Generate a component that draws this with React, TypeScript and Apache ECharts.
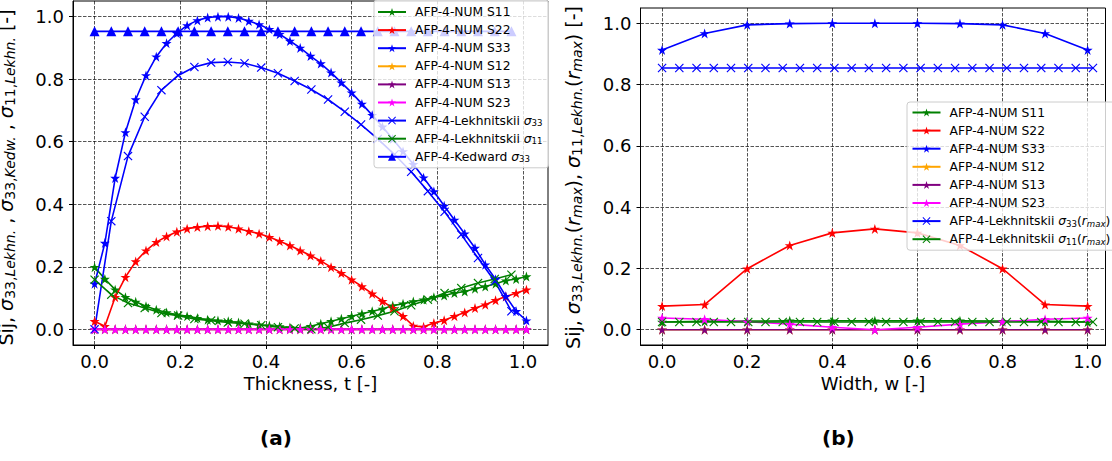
import React, { useEffect, useRef } from "react";
import * as echarts from "echarts";

// ---------------- data ----------------
const thicknessNum = [0, 0.024, 0.048, 0.072, 0.096, 0.12, 0.144, 0.168, 0.192, 0.216, 0.24, 0.264, 0.288, 0.312, 0.336, 0.36, 0.384, 0.408, 0.432, 0.456, 0.48, 0.504, 0.528, 0.552, 0.576, 0.6, 0.624, 0.648, 0.672, 0.696, 0.72, 0.744, 0.768, 0.792, 0.816, 0.84, 0.864, 0.888, 0.912, 0.936, 0.96, 0.984, 1.008];
const thicknessLekh = [0, 0.039, 0.078, 0.117, 0.156, 0.195, 0.233, 0.272, 0.311, 0.35, 0.389, 0.428, 0.467, 0.506, 0.545, 0.584, 0.622, 0.661, 0.7, 0.739, 0.778, 0.817, 0.856, 0.895, 0.934, 0.973];

const aS11 = [0.199, 0.161, 0.127, 0.103, 0.088, 0.074, 0.063, 0.054, 0.047, 0.042, 0.036, 0.031, 0.028, 0.026, 0.022, 0.018, 0.015, 0.012, 0.009, 0.006, 0.004, 0.01, 0.018, 0.026, 0.034, 0.042, 0.05, 0.058, 0.065, 0.076, 0.082, 0.089, 0.095, 0.103, 0.108, 0.116, 0.121, 0.13, 0.137, 0.146, 0.156, 0.161, 0.169];
const aS22 = [0.026, 0.01, 0.103, 0.167, 0.217, 0.252, 0.279, 0.297, 0.312, 0.322, 0.327, 0.33, 0.331, 0.328, 0.322, 0.314, 0.306, 0.295, 0.282, 0.268, 0.252, 0.236, 0.219, 0.199, 0.18, 0.159, 0.137, 0.114, 0.09, 0.068, 0.042, 0.011, 0.008, 0.02, 0.029, 0.042, 0.054, 0.068, 0.079, 0.093, 0.105, 0.116, 0.127];
const aS33 = [0.146, 0.276, 0.484, 0.63, 0.735, 0.812, 0.872, 0.915, 0.947, 0.972, 0.988, 0.997, 1.0, 1.0, 0.996, 0.986, 0.975, 0.96, 0.944, 0.922, 0.9, 0.874, 0.85, 0.821, 0.789, 0.757, 0.721, 0.685, 0.648, 0.609, 0.569, 0.528, 0.485, 0.441, 0.395, 0.35, 0.306, 0.26, 0.207, 0.16, 0.106, 0.058, 0.028];
const aS12 = [0, 0, 0, 0, 0, 0, 0, 0, 0, 0, 0, 0, 0, 0, 0, 0, 0, 0, 0, 0, 0, 0, 0, 0, 0, 0, 0, 0, 0, 0, 0, 0, 0, 0, 0, 0, 0, 0, 0, 0, 0, 0, 0];
const aS13 = [0, 0, 0, 0, 0, 0, 0, 0, 0, 0, 0, 0, 0, 0, 0, 0, 0, 0, 0, 0, 0, 0, 0, 0, 0, 0, 0, 0, 0, 0, 0, 0, 0, 0, 0, 0, 0, 0, 0, 0, 0, 0, 0];
const aS23 = [0, 0, 0, 0, 0, 0, 0, 0, 0, 0, 0, 0, 0, 0, 0, 0, 0, 0, 0, 0, 0, 0, 0, 0, 0, 0, 0, 0, 0, 0, 0, 0, 0, 0, 0, 0, 0, 0, 0, 0, 0, 0, 0];
const aLekh33 = [0, 0.346, 0.554, 0.68, 0.765, 0.812, 0.839, 0.853, 0.855, 0.851, 0.837, 0.819, 0.794, 0.767, 0.735, 0.696, 0.655, 0.609, 0.559, 0.504, 0.442, 0.376, 0.303, 0.228, 0.154, 0.058];
const aLekh11 = [0.159, 0.111, 0.084, 0.068, 0.052, 0.044, 0.033, 0.028, 0.022, 0.018, 0.013, 0.007, 0.003, 0.0, 0.007, 0.02, 0.031, 0.044, 0.058, 0.077, 0.095, 0.116, 0.132, 0.148, 0.161, 0.175];
const aKedw33 = [0.953, 0.953, 0.953, 0.953, 0.953, 0.953, 0.953, 0.953, 0.953, 0.953, 0.953, 0.953, 0.953, 0.953, 0.953, 0.953, 0.953, 0.953, 0.953, 0.953, 0.953, 0.953, 0.953, 0.953, 0.953, 0.953];

const widthNum = [0, 0.1, 0.2, 0.3, 0.4, 0.5, 0.6, 0.7, 0.8, 0.9, 1.0];
const widthLekh = [0, 0.0405, 0.081, 0.1215, 0.162, 0.2025, 0.243, 0.2835, 0.324, 0.3645, 0.405, 0.4455, 0.486, 0.5265, 0.567, 0.6075, 0.648, 0.6885, 0.729, 0.7695, 0.81, 0.8505, 0.891, 0.9315, 0.972, 1.0125];
const bS11 = [0.025, 0.027, 0.028, 0.029, 0.029, 0.029, 0.029, 0.029, 0.028, 0.027, 0.025];
const bS22 = [0.077, 0.082, 0.199, 0.275, 0.316, 0.329, 0.316, 0.275, 0.199, 0.082, 0.077];
const bS33 = [0.913, 0.967, 0.995, 0.999, 1.0, 1.0, 1.0, 0.999, 0.995, 0.967, 0.913];
const bS12 = [0, 0, 0, 0, 0, 0, 0, 0, 0, 0, 0];
const bS13 = [0, 0, 0, 0, 0, 0, 0, 0, 0, 0, 0];
const bS23 = [0.038, 0.034, 0.026, 0.018, 0.008, 0.0, 0.008, 0.018, 0.026, 0.034, 0.038];
const bLekh33 = [0.854, 0.854, 0.854, 0.854, 0.854, 0.854, 0.854, 0.854, 0.854, 0.854, 0.854, 0.854, 0.854, 0.854, 0.854, 0.854, 0.854, 0.854, 0.854, 0.854, 0.854, 0.854, 0.854, 0.854, 0.854, 0.854];
const bLekh11 = [0.025, 0.025, 0.025, 0.025, 0.025, 0.025, 0.025, 0.025, 0.025, 0.025, 0.025, 0.025, 0.025, 0.025, 0.025, 0.025, 0.025, 0.025, 0.025, 0.025, 0.025, 0.025, 0.025, 0.025, 0.025, 0.025];

const tickValues = [0, 0.2, 0.4, 0.6, 0.8, 1.0];

const N11 = "AFP-4-NUM S11";
const N22 = "AFP-4-NUM S22";
const N33 = "AFP-4-NUM S33";
const N12 = "AFP-4-NUM S12";
const N13 = "AFP-4-NUM S13";
const N23 = "AFP-4-NUM S23";
const NL33 = "AFP-4-Lekhnitskii σ33";
const NL11 = "AFP-4-Lekhnitskii σ11";
const NK33 = "AFP-4-Kedward σ33";
const NL33r = "AFP-4-Lekhnitskii σ33(rmax)";
const NL11r = "AFP-4-Lekhnitskii σ11(rmax)";

// ---------------- styles ----------------
const FONT = "DejaVu Sans";
const STAR = "path://M50,0L61.23,34.55L97.55,34.55L68.17,55.9L79.39,90.45L50,69.1L20.61,90.45L31.83,55.9L2.45,34.55L38.77,34.55Z";
const XMARK = "path://M9,0L50,41L91,0L100,9L59,50L100,91L91,100L50,59L9,100L0,91L41,50L0,9Z";
const GREEN = "#008000";
const RED = "#ff0000";
const BLUE = "#0000ff";
const ORANGE = "#ffa500";
const PURPLE = "#800080";
const MAGENTA = "#ff00ff";

const pts = (xs: number[], ys: number[]) => xs.map((x, i) => [x, ys[i]]);

const mk = (name: string, xs: number[], ys: number[], color: string, symbol: string, size: number, g: number) => ({
  type: "line",
  name,
  xAxisIndex: g,
  yAxisIndex: g,
  data: pts(xs, ys),
  symbol,
  symbolSize: size,
  showAllSymbol: true,
  color,
  itemStyle: { color, borderWidth: 0 },
  lineStyle: { color, width: 1.6 },
  emphasis: { disabled: true },
  silent: true,
});

const tickFmt = (v: number) => {
  const k = v / 0.2;
  return Math.abs(k - Math.round(k)) < 1e-6 ? v.toFixed(1) : "";
};

const gridLine = { show: true, lineStyle: { color: "rgba(0,0,0,0.75)", width: 0.9, type: [3.5, 1.5] } };

const xAxisBase = (g: number, min: number, max: number, name: string) => ({
  type: "value",
  gridIndex: g,
  min,
  max,
  splitNumber: 5,
  name,
  nameLocation: "middle",
  nameGap: 28,
  nameTextStyle: { fontFamily: FONT, fontSize: 18, color: "#000" },
  axisLine: { show: true, onZero: false, lineStyle: { color: "#000", width: 1 } },
  axisTick: { show: true, length: 4, lineStyle: { color: "#000", width: 1 }, customValues: tickValues },
  axisLabel: { fontFamily: FONT, fontSize: 18, color: "#000", margin: 7, formatter: tickFmt, customValues: tickValues },
  splitLine: gridLine,
});

const nameRich = {
  g: { fontFamily: FONT, fontSize: 19, fontStyle: "italic", color: "#000", lineHeight: 22 },
  s: { fontFamily: FONT, fontSize: 14, color: "#000", verticalAlign: "bottom", lineHeight: 13 },
  si: { fontFamily: FONT, fontSize: 14, fontStyle: "italic", color: "#000", verticalAlign: "bottom", lineHeight: 13 },
};

const yAxisBase = (g: number, name: string, gap: number, shift: number) => ({
  type: "value",
  gridIndex: g,
  min: -0.05,
  max: 1.05,
  splitNumber: 5,
  name,
  nameLocation: "middle",
  nameRotate: 90,
  nameGap: gap,
  nameTextStyle: { fontFamily: FONT, fontSize: 19, color: "#000", lineHeight: 22, rich: nameRich, padding: [0, shift, 0, 0] },
  axisLine: { show: true, onZero: false, lineStyle: { color: "#000", width: 1 } },
  axisTick: { show: true, length: 4, lineStyle: { color: "#000", width: 1 }, customValues: tickValues },
  axisLabel: { fontFamily: FONT, fontSize: 18, color: "#000", margin: 9, formatter: tickFmt, customValues: tickValues },
  splitLine: gridLine,
});

const legendNames: Record<string, string> = {
  [NL33]: "AFP-4-Lekhnitskii {g|σ}{s|33}",
  [NL11]: "AFP-4-Lekhnitskii {g|σ}{s|11}",
  [NK33]: "AFP-4-Kedward {g|σ}{s|33}",
  [NL33r]: "AFP-4-Lekhnitskii {g|σ}{s|33}({g|r}{si|max})",
  [NL11r]: "AFP-4-Lekhnitskii {g|σ}{s|11}({g|r}{si|max})",
};

const legendText = {
  fontFamily: FONT,
  fontSize: 12.3,
  color: "#000",
  lineHeight: 14,
  padding: [0, 0, 0, 4],
  rich: {
    g: { fontFamily: FONT, fontSize: 12.3, fontStyle: "italic", color: "#000", lineHeight: 14 },
    s: { fontFamily: FONT, fontSize: 8.6, color: "#000", verticalAlign: "bottom", lineHeight: 8 },
    si: { fontFamily: FONT, fontSize: 8.6, fontStyle: "italic", color: "#000", verticalAlign: "bottom", lineHeight: 8 },
  },
};

const legendBase = {
  orient: "vertical",
  itemWidth: 28,
  itemHeight: 10,
  itemGap: 4.1,
  backgroundColor: "rgba(255,255,255,0.8)",
  borderColor: "#cccccc",
  borderWidth: 1,
  borderRadius: 3,
  selectedMode: false,
  textStyle: legendText,
  formatter: (n: string) => legendNames[n] || n,
};

const gridBase = {
  show: true,
  borderColor: "#000",
  borderWidth: 1,
  backgroundColor: "transparent",
  containLabel: false,
  outerBoundsMode: "none",
};

const option = {
  animation: false,
  backgroundColor: "#ffffff",
  grid: [
    { ...gridBase, left: 73, top: 1, width: 475, height: 344 },
    { ...gridBase, left: 640.5, top: 8, width: 465, height: 337 },
  ],
  xAxis: [
    xAxisBase(0, -0.0504, 1.0584, "Thickness, t [-]"),
    xAxisBase(1, -0.0507, 1.042, "Width, w [-]"),
  ],
  yAxis: [
    yAxisBase(0, "Sij, {g|σ}{s|33,}{si|Lekhn.} , {g|σ}{s|33,}{si|Kedw.} , {g|σ}{s|11,}{si|Lekhn.} [-]", 56, 9),
    yAxisBase(1, "Sij, {g|σ}{s|33,}{si|Lekhn.}({g|r}{si|max}), {g|σ}{s|11,}{si|Lekhn.}({g|r}{si|max}) [-]", 57, 2),
  ],
  legend: [
    { ...legendBase, left: 374, top: 0, padding: [5, 6, 4, 3], data: [N11, N22, N33, N12, N13, N23, NL33, NL11, NK33] },
    { ...legendBase, left: 907, top: 102, padding: [3.5, 6, 4, 4.5], data: [N11, N22, N33, N12, N13, N23, NL33r, NL11r] },
  ],
  graphic: [
    { type: "text", left: 260, top: 428, style: { text: "(a)", fontFamily: FONT, fontSize: 20, fontWeight: "bold", fill: "#000" } },
    { type: "text", left: 822, top: 428, style: { text: "(b)", fontFamily: FONT, fontSize: 20, fontWeight: "bold", fill: "#000" } },
  ],
  series: [
    mk(N11, thicknessNum, aS11, GREEN, STAR, 10, 0),
    mk(N22, thicknessNum, aS22, RED, STAR, 10, 0),
    mk(N33, thicknessNum, aS33, BLUE, STAR, 10, 0),
    mk(N12, thicknessNum, aS12, ORANGE, STAR, 10, 0),
    mk(N13, thicknessNum, aS13, PURPLE, STAR, 10, 0),
    mk(N23, thicknessNum, aS23, MAGENTA, STAR, 10, 0),
    mk(NL33, thicknessLekh, aLekh33, BLUE, XMARK, 9, 0),
    mk(NL11, thicknessLekh, aLekh11, GREEN, XMARK, 9, 0),
    mk(NK33, thicknessLekh, aKedw33, BLUE, "triangle", 10, 0),
    mk(N11, widthNum, bS11, GREEN, STAR, 10, 1),
    mk(N22, widthNum, bS22, RED, STAR, 10, 1),
    mk(N33, widthNum, bS33, BLUE, STAR, 10, 1),
    mk(N12, widthNum, bS12, ORANGE, STAR, 10, 1),
    mk(N13, widthNum, bS13, PURPLE, STAR, 10, 1),
    mk(N23, widthNum, bS23, MAGENTA, STAR, 10, 1),
    mk(NL33r, widthLekh, bLekh33, BLUE, XMARK, 9, 1),
    mk(NL11r, widthLekh, bLekh11, GREEN, XMARK, 9, 1),
  ],
};

export default function App() {
  const ref = useRef<HTMLDivElement>(null);
  useEffect(() => {
    const chart = echarts.init(ref.current!, null, { renderer: "svg" });
    chart.setOption(option as any);
    return () => chart.dispose();
  }, []);
  return (
    <div
      ref={ref}
      style={{ position: "fixed", left: 0, top: 0, width: 1112, height: 461, background: "#fff" }}
    />
  );
}
